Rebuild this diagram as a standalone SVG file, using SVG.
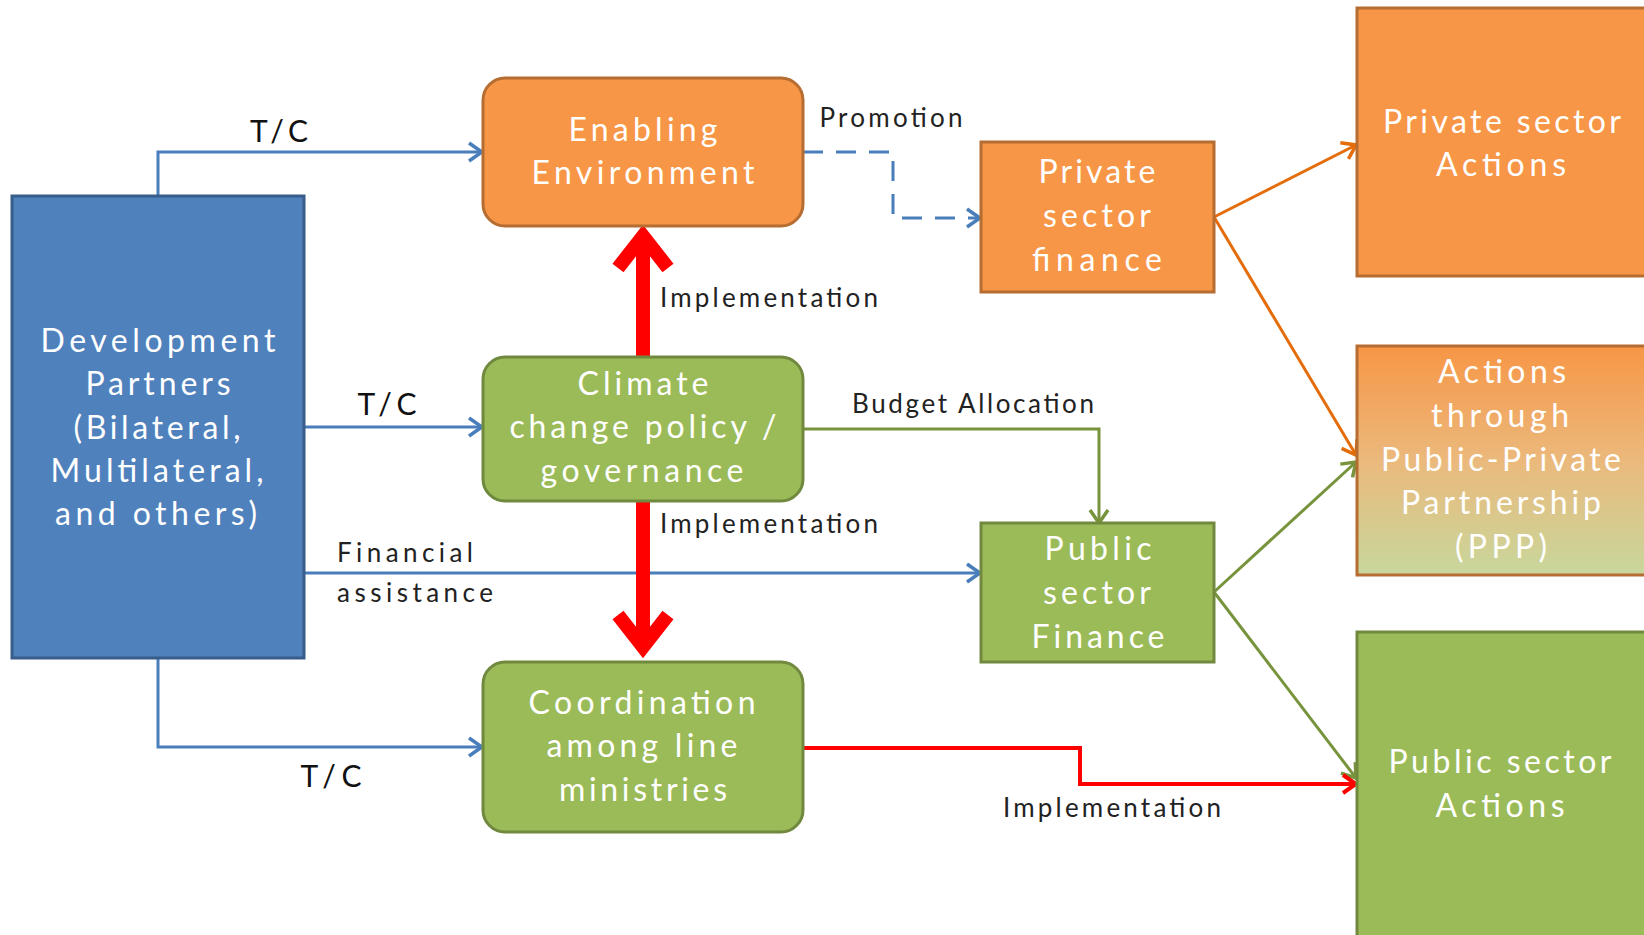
<svg xmlns="http://www.w3.org/2000/svg" width="1644" height="935" viewBox="0 0 1644 935">
<style>
.bt{font-family:Lato,"Liberation Sans",sans-serif;font-size:32px;fill:#ffffff;text-anchor:middle}
.lb{font-family:Lato,"Liberation Sans",sans-serif;font-size:26px;fill:#222222}
.tc{font-family:Lato,"Liberation Sans",sans-serif;font-size:30px;fill:#111111}
.or{fill:#F79646;stroke:#B66D31;stroke-width:3}
.gr{fill:#9BBB59;stroke:#71893F;stroke-width:3}
.bl{fill:#4F81BD;stroke:#385D8A;stroke-width:3}
.cb{fill:none;stroke:#4A7EBB;stroke-width:3}
.cg{fill:none;stroke:#77933C;stroke-width:3}
.co{fill:none;stroke:#E46C0A;stroke-width:3}
.cr{fill:none;stroke:#FF0000;stroke-width:4}
.rt{fill:none;stroke:#FF0000;stroke-width:14}
</style>
<defs>
<marker id="mb" markerUnits="userSpaceOnUse" markerWidth="20" markerHeight="24" viewBox="0 0 20 24" refX="17" refY="12" orient="auto"><path d="M4,3 L17,12 L4,21" fill="none" stroke="#4A7EBB" stroke-width="3.5"/></marker>
<marker id="mo" markerUnits="userSpaceOnUse" markerWidth="20" markerHeight="24" viewBox="0 0 20 24" refX="17" refY="12" orient="auto"><path d="M4,3 L17,12 L4,21" fill="none" stroke="#E46C0A" stroke-width="3.5"/></marker>
<marker id="mg" markerUnits="userSpaceOnUse" markerWidth="20" markerHeight="24" viewBox="0 0 20 24" refX="17" refY="12" orient="auto"><path d="M4,3 L17,12 L4,21" fill="none" stroke="#77933C" stroke-width="3.5"/></marker>
<marker id="mr" markerUnits="userSpaceOnUse" markerWidth="20" markerHeight="24" viewBox="0 0 20 24" refX="17" refY="12" orient="auto"><path d="M4,3 L17,12 L4,21" fill="none" stroke="#FF0000" stroke-width="4"/></marker>
<linearGradient id="ppp" x1="0" y1="0" x2="0" y2="1"><stop offset="0" stop-color="#F79646"/><stop offset="0.5" stop-color="#EBB97C"/><stop offset="1" stop-color="#C8D79C"/></linearGradient>
</defs>

<g id="connectors">
<polyline class="cb" points="158,196 158,152 482,152" marker-end="url(#mb)"/>
<polyline class="cb" points="304,427 482,427" marker-end="url(#mb)"/>
<polyline class="cb" points="158,658 158,747 482,747" marker-end="url(#mb)"/>
<polyline class="cb" points="304,573 980,573" marker-end="url(#mb)"/>
<polyline class="cb" points="803,152 893,152 893,218 980,218" stroke-dasharray="20 13" marker-end="url(#mb)"/>
<polyline class="cg" points="803,429 1099,429 1099,523" marker-end="url(#mg)"/>
<line class="co" x1="1214" y1="217" x2="1356" y2="145" marker-end="url(#mo)"/>
<line class="co" x1="1214" y1="217" x2="1356" y2="455" marker-end="url(#mo)"/>
<line class="cg" x1="1214" y1="592" x2="1356" y2="462" marker-end="url(#mg)"/>
<line class="cg" x1="1214" y1="592" x2="1356" y2="778" marker-end="url(#mg)"/>
<polyline class="cr" points="803,748 1080,748 1080,784 1356,784" marker-end="url(#mr)"/>
<line class="rt" x1="643" y1="357" x2="643" y2="237"/>
<polyline class="rt" points="618,268 643,236 668,268" stroke-linejoin="miter"/>
<line class="rt" x1="643" y1="501" x2="643" y2="647"/>
<polyline class="rt" points="618,615 643,647 668,615" stroke-linejoin="miter"/>
<text class="tc" x="279" y="142" text-anchor="middle" textLength="58">T/C</text>
<text class="lb" x="891" y="127" text-anchor="middle" textLength="143">Promotion</text>
<text class="lb" x="769" y="307" text-anchor="middle" textLength="218">Implementation</text>
<text class="tc" x="387" y="415" text-anchor="middle" textLength="59">T/C</text>
<text class="lb" x="973" y="413" text-anchor="middle" textLength="242">Budget Allocation</text>
<text class="lb" x="769" y="533" text-anchor="middle" textLength="218">Implementation</text>
<text class="lb" x="337" y="562" textLength="136">Financial</text>
<text class="lb" x="337" y="602" textLength="156">assistance</text>
<text class="tc" x="331" y="787" text-anchor="middle" textLength="61">T/C</text>
<text class="lb" x="1112" y="817" text-anchor="middle" textLength="218">Implementation</text>
</g>

<g id="dev-partners">
<rect class="bl" x="12" y="196" width="292" height="462"/>
<text class="bt" x="158" y="352" textLength="235">Development</text>
<text class="bt" x="158" y="395" textLength="145">Partners</text>
<text class="bt" x="157" y="439" textLength="167">(Bilateral,</text>
<text class="bt" x="157" y="482" textLength="213">Multilateral,</text>
<text class="bt" x="156" y="525" textLength="202">and others)</text>
</g>

<g id="enabling-environment">
<rect class="or" x="483" y="78" width="320" height="148" rx="22"/>
<text class="bt" x="643" y="141" textLength="149">Enabling</text>
<text class="bt" x="643" y="184" textLength="223">Environment</text>
</g>

<g id="climate-policy">
<rect class="gr" x="483" y="357" width="320" height="144" rx="22"/>
<text class="bt" x="643" y="395" textLength="131">Climate</text>
<text class="bt" x="643" y="438" textLength="267">change policy /</text>
<text class="bt" x="642" y="482" textLength="203">governance</text>
</g>

<g id="coordination">
<rect class="gr" x="483" y="662" width="320" height="170" rx="22"/>
<text class="bt" x="642" y="714" textLength="227">Coordination</text>
<text class="bt" x="642" y="757" textLength="191">among line</text>
<text class="bt" x="643" y="801" textLength="168">ministries</text>
</g>

<g id="private-sector-finance">
<rect class="or" x="981" y="142" width="233" height="150"/>
<text class="bt" x="1097" y="183" textLength="117">Private</text>
<text class="bt" x="1097" y="227" textLength="108">sector</text>
<text class="bt" x="1097" y="271" textLength="130">finance</text>
</g>

<g id="public-sector-finance">
<rect class="gr" x="981" y="523" width="233" height="139"/>
<text class="bt" x="1098" y="560" textLength="107">Public</text>
<text class="bt" x="1097" y="604" textLength="108">sector</text>
<text class="bt" x="1098" y="648" textLength="133">Finance</text>
</g>

<g id="private-sector-actions">
<rect class="or" x="1357" y="8" width="300" height="268"/>
<text class="bt" x="1502" y="133" textLength="238">Private sector</text>
<text class="bt" x="1501" y="176" textLength="130">Actions</text>
</g>

<g id="ppp-actions">
<rect x="1357" y="346" width="300" height="229" fill="url(#ppp)" stroke="#B66D31" stroke-width="3"/>
<text class="bt" x="1502" y="383" textLength="128">Actions</text>
<text class="bt" x="1500" y="427" textLength="138">through</text>
<text class="bt" x="1501" y="471" textLength="240">Public-Private</text>
<text class="bt" x="1501" y="514" textLength="200">Partnership</text>
<text class="bt" x="1501" y="558" textLength="92">(PPP)</text>
</g>

<g id="public-sector-actions">
<rect class="gr" x="1357" y="632" width="300" height="320"/>
<text class="bt" x="1500" y="773" textLength="223">Public sector</text>
<text class="bt" x="1500" y="817" textLength="129">Actions</text>
</g>
</svg>
